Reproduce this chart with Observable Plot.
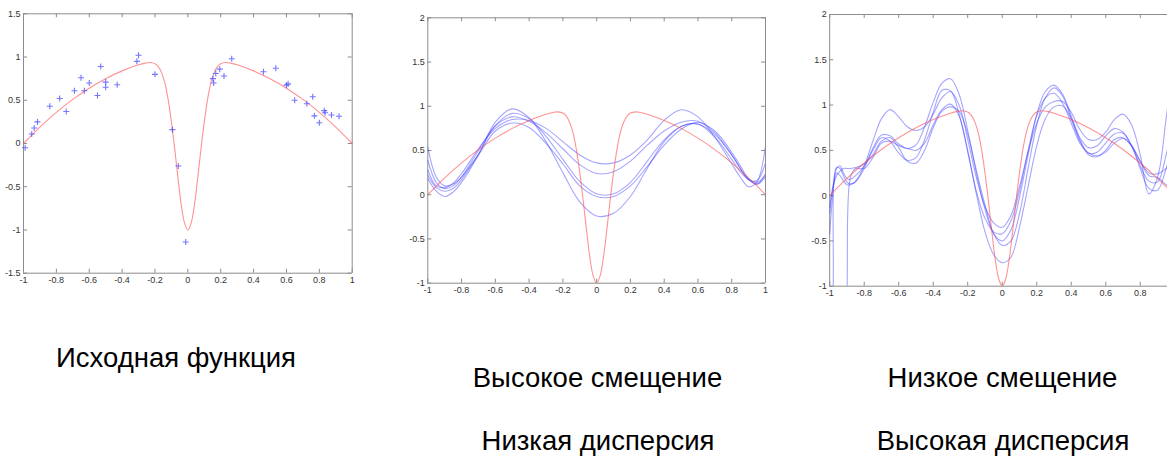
<!DOCTYPE html>
<html>
<head>
<meta charset="utf-8">
<script src="https://cdn.jsdelivr.net/npm/d3@7"></script>
<script src="https://cdn.jsdelivr.net/npm/@observablehq/plot@0.6"></script>
<style>
  html, body { margin: 0; padding: 0; background: #fff; overflow: hidden; }
  #root { position: relative; width: 1167px; height: 457px; overflow: hidden; background: #fff; }
  .panel { position: absolute; top: 0; }
  .cap { position: absolute; font-family: "Liberation Sans", Arial, sans-serif; font-size: 27.5px; line-height: 27.5px; color: #000; white-space: nowrap; transform: translateX(-50%); }
</style>
</head>
<body>
<div id="root"></div>
<script>
// ---------- data ----------
const xTicks = [-1, -0.8, -0.6, -0.4, -0.2, 0, 0.2, 0.4, 0.6, 0.8, 1];
const xTicks3 = [-1, -0.8, -0.6, -0.4, -0.2, 0, 0.2, 0.4, 0.6, 0.8];
const yTicks1 = [-1.5, -1, -0.5, 0, 0.5, 1, 1.5];
const yTicks23 = [-1, -0.5, 0, 0.5, 1, 1.5, 2];

const captions = ["Исходная функция", "Высокое смещение", "Низкая дисперсия", "Низкое смещение", "Высокая дисперсия"];

// true function (red)
const redX = [-1, -0.9, -0.8, -0.7, -0.6, -0.5, -0.4, -0.3, -0.26, -0.23, -0.2, -0.18, -0.16, -0.14, -0.12, -0.1, -0.08, -0.06, -0.04, -0.02, 0,
              0.02, 0.04, 0.06, 0.08, 0.1, 0.12, 0.14, 0.16, 0.18, 0.2, 0.23, 0.26, 0.3, 0.4, 0.5, 0.6, 0.7, 0.8, 0.9, 1];
const redY = [0, 0.19, 0.36, 0.51, 0.64, 0.75, 0.84, 0.91, 0.93, 0.937, 0.923, 0.889, 0.82, 0.70, 0.51, 0.25, -0.06, -0.40, -0.71, -0.92, -1,
              -0.92, -0.71, -0.40, -0.06, 0.25, 0.51, 0.70, 0.82, 0.889, 0.923, 0.937, 0.93, 0.91, 0.84, 0.75, 0.64, 0.51, 0.36, 0.19, 0];

// noisy samples (blue +)
const sampleX = [-0.99, -0.95, -0.935, -0.915, -0.84, -0.78, -0.74, -0.69, -0.65, -0.63, -0.6, -0.55, -0.53, -0.5, -0.5, -0.43, -0.31, -0.30, -0.2,
                 -0.094, -0.058, -0.013, 0.153, 0.157, 0.17, 0.194, 0.22, 0.267, 0.46, 0.535, 0.60, 0.61, 0.65, 0.724, 0.76, 0.77, 0.80, 0.83, 0.835, 0.874, 0.92];
const sampleY = [-0.05, 0.11, 0.18, 0.25, 0.43, 0.52, 0.37, 0.61, 0.76, 0.61, 0.70, 0.555, 0.89, 0.71, 0.65, 0.68, 0.95, 1.02, 0.80,
                 0.16, -0.26, -1.14, 0.75, 0.70, 0.81, 0.86, 0.78, 0.98, 0.83, 0.87, 0.675, 0.69, 0.50, 0.46, 0.54, 0.32, 0.24, 0.38, 0.355, 0.33, 0.315];

// high bias fits
const fitX2 = [-1, -0.95, -0.9, -0.85, -0.8, -0.7, -0.6, -0.5, -0.4, -0.3, -0.2, -0.1, 0, 0.1, 0.2, 0.3, 0.4, 0.5, 0.6, 0.7, 0.8, 0.85, 0.9, 0.95, 1];
const fit2A = [0.28, 0.10, 0.08, 0.13, 0.24, 0.52, 0.75, 0.85, 0.84, 0.75, 0.60, 0.45, 0.36, 0.36, 0.45, 0.62, 0.84, 0.96, 0.88, 0.65, 0.35, 0.20, 0.09, 0.15, 0.55];
const fit2B = [0.39, 0.14, 0.07, 0.10, 0.20, 0.50, 0.78, 0.88, 0.83, 0.70, 0.52, 0.34, 0.24, 0.26, 0.38, 0.56, 0.72, 0.82, 0.83, 0.70, 0.45, 0.30, 0.17, 0.16, 0.36];
const fit2C = [0.22, 0.08, 0.04, 0.07, 0.17, 0.46, 0.78, 0.92, 0.86, 0.66, 0.40, 0.15, 0.01, 0.01, 0.14, 0.38, 0.62, 0.77, 0.80, 0.68, 0.45, 0.30, 0.17, 0.12, 0.20];
const fit2D = [0.54, 0.20, 0.10, 0.12, 0.20, 0.45, 0.72, 0.81, 0.76, 0.58, 0.35, 0.10, -0.02, -0.02, 0.10, 0.32, 0.56, 0.74, 0.82, 0.72, 0.48, 0.33, 0.18, 0.12, 0.24];
const fit2E = [0.18, 0.04, -0.02, 0.03, 0.14, 0.45, 0.82, 0.97, 0.87, 0.60, 0.25, -0.08, -0.24, -0.21, -0.02, 0.30, 0.60, 0.77, 0.80, 0.65, 0.40, 0.26, 0.17, 0.14, 0.22];

// low bias fits
const fitX3 = [-1, -0.98, -0.96, -0.94, -0.92, -0.9, -0.88, -0.85, -0.8, -0.75, -0.7, -0.65, -0.6, -0.55, -0.5, -0.45, -0.4, -0.35, -0.3, -0.25, -0.2, -0.15, -0.1, -0.05,
               0, 0.05, 0.1, 0.15, 0.2, 0.25, 0.3, 0.35, 0.4, 0.45, 0.5, 0.55, 0.6, 0.65, 0.7, 0.75, 0.8, 0.85, 0.9, 0.95, 1];
const fit3A = [-0.13, 0.12, 0.25, 0.22, 0.16, 0.12, 0.12, 0.16, 0.33, 0.60, 0.85, 0.95, 0.87, 0.76, 0.72, 0.76, 0.90, 1.08, 1.15, 1.00, 0.62, 0.20, -0.12, -0.30,
               -0.35, -0.22, 0.10, 0.48, 0.80, 0.98, 1.04, 1.04, 0.92, 0.73, 0.62, 0.62, 0.70, 0.84, 0.90, 0.78, 0.45, 0.02, 0.20, 0.85, 1.60];
const fit3B = [-3.0, -1.05, 0.31, 0.30, 0.22, 0.15, 0.13, 0.15, 0.30, 0.52, 0.67, 0.66, 0.57, 0.52, 0.56, 0.76, 1.03, 1.24, 1.29, 1.12, 0.72, 0.25, -0.15, -0.42,
               -0.50, -0.38, -0.02, 0.45, 0.90, 1.15, 1.22, 1.12, 0.88, 0.64, 0.53, 0.55, 0.66, 0.74, 0.70, 0.55, 0.33, 0.16, 0.15, 0.45, 0.90];
const fit3C = [-0.42, 0.05, 0.30, 0.33, 0.25, 0.19, 0.18, 0.22, 0.33, 0.50, 0.64, 0.60, 0.47, 0.39, 0.42, 0.62, 0.92, 1.16, 1.16, 0.90, 0.48, 0.05, -0.25, -0.40,
               -0.42, -0.28, 0.05, 0.50, 0.88, 1.08, 1.13, 1.02, 0.80, 0.58, 0.47, 0.48, 0.58, 0.68, 0.69, 0.55, 0.30, 0.08, 0.06, 0.30, 0.60];
const fit3D = [-6.0, -5.0, -4.0, -3.0, -2.0, -1.1, 0.20, 0.30, 0.30, 0.42, 0.58, 0.60, 0.55, 0.52, 0.50, 0.58, 0.78, 0.95, 1.01, 0.88, 0.50, 0.02, -0.40, -0.65,
               -0.74, -0.68, -0.35, 0.10, 0.55, 0.85, 0.98, 0.99, 0.85, 0.62, 0.45, 0.43, 0.50, 0.62, 0.64, 0.55, 0.38, 0.22, 0.20, 0.12, 0.05];
const fit3E = [-0.20, 0.10, 0.22, 0.27, 0.30, 0.30, 0.30, 0.31, 0.35, 0.45, 0.60, 0.64, 0.53, 0.38, 0.36, 0.50, 0.75, 0.93, 0.98, 0.93, 0.68, 0.28, -0.10, -0.42,
               -0.55, -0.50, -0.20, 0.30, 0.78, 1.08, 1.19, 1.10, 0.85, 0.60, 0.47, 0.44, 0.48, 0.58, 0.63, 0.55, 0.38, 0.25, 0.24, 0.30, 0.40];

// ---------- helpers ----------
const BLUE = "#3a3aff";
const RED = "#ff4a4a";
const AXIS = "#8c8c8c";
const red = redX.map((x, i) => ({x, y: redY[i]}));
const samples = sampleX.map((x, i) => ({x, y: sampleY[i]}));
function rowsOf(xs, series) {
  const rows = [];
  series.forEach((ys, k) => ys.forEach((y, i) => rows.push({x: xs[i], y, k})));
  return rows;
}
const fits2 = rowsOf(fitX2, [fit2A, fit2B, fit2C, fit2D, fit2E]);
const fits3 = rowsOf(fitX3, [fit3A, fit3B, fit3C, fit3D, fit3E]);

const plusSymbol = {
  draw(ctx, size) {
    const r = Math.sqrt(size / Math.PI);
    ctx.moveTo(-r, 0); ctx.lineTo(r, 0);
    ctx.moveTo(0, -r); ctx.lineTo(0, r);
  }
};

function panel(o) {
  const innerW = o.width - o.ml - o.mr;
  const innerH = o.height - o.mt - o.mb;
  const fmt = d => String(d);
  const marks = [
    Plot.ruleY([o.yDomain[0], o.yDomain[1]], {stroke: AXIS}),
    Plot.ruleX(o.rightEdge ? [o.xDomain[0], o.xDomain[1]] : [o.xDomain[0]], {stroke: AXIS}),
    Plot.tickX(o.xTicks, {x: d => d, stroke: AXIS, insetTop: innerH - 4}),
    Plot.tickX(o.xTicks, {x: d => d, stroke: AXIS, insetBottom: innerH - 4}),
    Plot.tickY(o.yTicks, {y: d => d, stroke: AXIS, insetRight: innerW - 4}),
    Plot.axisX(o.xTicks, {tickSize: 0, tickPadding: 3, tickFormat: fmt, fill: "#333"}),
    Plot.axisY(o.yTicks, {tickSize: 0, tickPadding: 3, tickFormat: fmt, fill: "#333"})
  ];
  if (o.rightEdge) marks.push(Plot.tickY(o.yTicks, {y: d => d, stroke: AXIS, insetLeft: innerW - 4}));
  marks.push(...o.data);
  const svg = Plot.plot({
    width: o.width, height: o.height,
    marginLeft: o.ml, marginRight: o.mr, marginTop: o.mt, marginBottom: o.mb,
    x: {domain: o.xDomain, label: null},
    y: {domain: o.yDomain, label: null},
    style: {fontFamily: "Liberation Sans, Arial, sans-serif", fontSize: "9px", background: "transparent", overflow: "visible"},
    marks
  });
  const wrap = document.createElement("div");
  wrap.className = "panel";
  wrap.style.left = o.left + "px";
  wrap.appendChild(svg);
  document.getElementById("root").appendChild(wrap);
}

panel({
  left: 0, width: 360, height: 300, ml: 23, mr: 8.3, mt: 13.3, mb: 27.3,
  xDomain: [-1, 1], yDomain: [-1.5, 1.5], xTicks: xTicks, yTicks: yTicks1, rightEdge: true,
  data: [
    Plot.line(red, {x: "x", y: "y", stroke: RED, strokeOpacity: 0.6, strokeWidth: 1.1, curve: "catmull-rom"}),
    Plot.dot(samples, {x: "x", y: "y", symbol: plusSymbol, r: 3, stroke: BLUE, strokeOpacity: 0.7, strokeWidth: 1.1, fill: "none"})
  ]
});

panel({
  left: 390, width: 380, height: 310, ml: 37.3, mr: 5, mt: 17.3, mb: 27.3,
  xDomain: [-1, 1], yDomain: [-1, 2], xTicks: xTicks, yTicks: yTicks23, rightEdge: true,
  data: [
    Plot.line(fits2, {x: "x", y: "y", z: "k", stroke: BLUE, strokeOpacity: 0.45, strokeWidth: 1.1, curve: "catmull-rom", clip: true}),
    Plot.line(red, {x: "x", y: "y", stroke: RED, strokeOpacity: 0.6, strokeWidth: 1.1, curve: "catmull-rom", clip: true})
  ]
});

panel({
  left: 790, width: 377, height: 310, ml: 39.2, mr: 0, mt: 14, mb: 24.3,
  xDomain: [-1, 0.958], yDomain: [-1, 2], xTicks: xTicks3, yTicks: yTicks23, rightEdge: false,
  data: [
    Plot.line(fits3, {x: "x", y: "y", z: "k", stroke: BLUE, strokeOpacity: 0.45, strokeWidth: 1.1, curve: "catmull-rom", clip: true}),
    Plot.line(red, {x: "x", y: "y", stroke: RED, strokeOpacity: 0.6, strokeWidth: 1.1, curve: "catmull-rom", clip: true})
  ]
});

// captions
const capPos = [[176, 357], [597.5, 377], [598, 440], [1002.5, 377], [1003, 440]];
captions.forEach((t, i) => {
  const d = document.createElement("div");
  d.className = "cap";
  d.textContent = t;
  d.style.left = capPos[i][0] + "px";
  d.style.top = (capPos[i][1] - 13) + "px";
  document.getElementById("root").appendChild(d);
});
</script>
</body>
</html>
